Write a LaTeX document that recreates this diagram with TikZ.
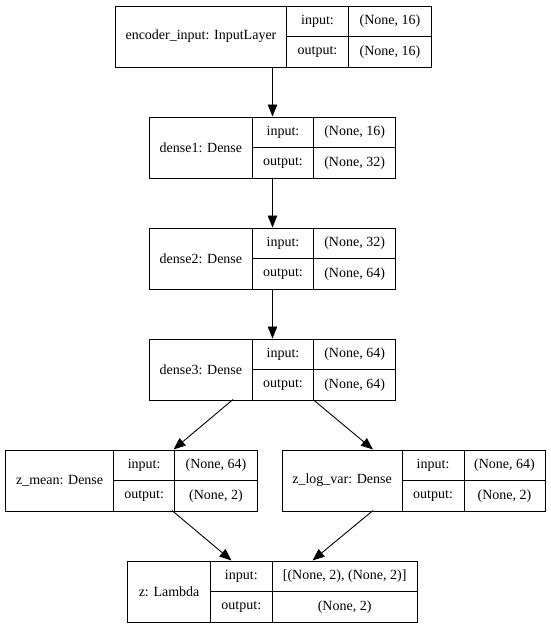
\documentclass[tikz,border=0pt]{standalone}
\usepackage{fontspec}
\setmainfont{Liberation Serif}
\usetikzlibrary{arrows.meta}
\tikzset{
  cell/.style={draw=black, line width=0.9pt, inner sep=0pt, anchor=north west,
    font=\fontsize{14}{16}\selectfont},
  edge/.style={line width=0.9pt, -{Triangle[length=12pt,width=9.5pt]}}
}
% #1 name, #2 x0, #3 x1, #4 x2, #5 x3, #6 ytop, #7 label, #8 in, #9 out
\newcommand\recbox[9]{%
  \pgfmathsetmacro\wa{#3-#2}%
  \pgfmathsetmacro\wb{#4-#3}%
  \pgfmathsetmacro\wc{#5-#4}%
  \pgfmathsetmacro\ymid{#6+30.5}%
  \node[cell, minimum width=\wa pt, minimum height=61pt] (#1) at (#2,#6) {#7};
  \node[cell, minimum width=\wb pt, minimum height=30.5pt] (#1-il) at (#3,#6) {input:};
  \node[cell, minimum width=\wb pt, minimum height=30.5pt] (#1-ol) at (#3,\ymid) {output:};
  \node[cell, minimum width=\wc pt, minimum height=30.5pt] (#1-iv) at (#4,#6) {#8};
  \node[cell, minimum width=\wc pt, minimum height=30.5pt] (#1-ov) at (#4,\ymid) {#9};
}
\begin{document}
\begin{tikzpicture}[x=1pt,y=-1pt]
\useasboundingbox (0,0) rectangle (551,627);
\recbox{enc}{115}{286}{348}{431}{5.5}{encoder\_input: InputLayer}{(None, 16)}{(None, 16)}
\recbox{d1}{149.3}{251.7}{313.3}{395}{116.5}{dense1: Dense}{(None, 16)}{(None, 32)}
\recbox{d2}{149.3}{251.7}{313.3}{395}{227.5}{dense2: Dense}{(None, 32)}{(None, 64)}
\recbox{d3}{149.3}{251.7}{313.3}{395}{338.5}{dense3: Dense}{(None, 64)}{(None, 64)}
\recbox{zm}{5}{113.3}{174}{257}{449.5}{z\_mean: Dense}{(None, 64)}{(None, 2)}
\recbox{zl}{281.5}{401.7}{463.5}{544.5}{449.5}{z\_log\_var: Dense}{(None, 64)}{(None, 2)}
\recbox{z}{127.3}{210}{271.7}{416.7}{560.5}{z: Lambda}{[(None, 2), (None, 2)]}{(None, 2)}
% connector end points
\coordinate (encS) at (272.5,66.5);
\coordinate (d1N) at (272.5,116.5);
\coordinate (d1S) at (272.5,177.5);
\coordinate (d2N) at (272.5,227.5);
\coordinate (d2S) at (272.5,288.5);
\coordinate (d3N) at (272.5,338.5);
\coordinate (d3SL) at (233,399.5);
\coordinate (d3SR) at (313,399.5);
\coordinate (zmN) at (173.5,449.5);
\coordinate (zlN) at (373,449.5);
\coordinate (zmS) at (172,510.5);
\coordinate (zlS) at (373,510.5);
\coordinate (zNL) at (231.5,560.5);
\coordinate (zNR) at (312.5,560.5);
\draw[edge] (encS) -- (d1N);
\draw[edge] (d1S) -- (d2N);
\draw[edge] (d2S) -- (d3N);
\draw[edge] (d3SL) -- (zmN);
\draw[edge] (d3SR) -- (zlN);
\draw[edge] (zmS) -- (zNL);
\draw[edge] (zlS) -- (zNR);
\end{tikzpicture}
\end{document}
